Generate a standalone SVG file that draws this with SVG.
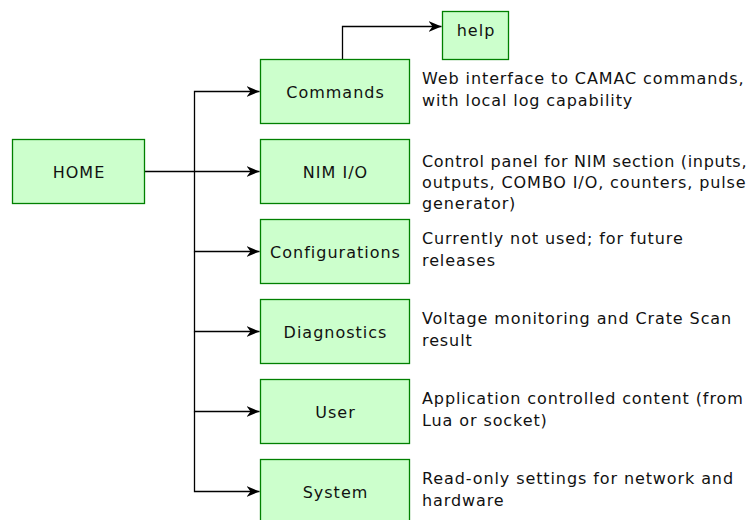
<svg xmlns="http://www.w3.org/2000/svg" width="756" height="520" viewBox="0 0 756 520">
<style>
.box{fill:#ccffcc;stroke:#008000;stroke-width:1.3}
.lbl{font-family:"DejaVu Sans",Verdana,sans-serif;font-size:16px;letter-spacing:1px;fill:#111;text-anchor:middle;dominant-baseline:central}
.desc{font-family:"DejaVu Sans",Verdana,sans-serif;font-size:16px;letter-spacing:0.9px;fill:#111}
.tight{letter-spacing:0.7px}
.edge{fill:none;stroke:#000;stroke-width:1.3}
</style>
<defs>
<marker id="arr" viewBox="0 0 13 12" refX="13" refY="6" markerWidth="13" markerHeight="12" markerUnits="userSpaceOnUse" orient="auto">
<path d="M0,0.5 L13,6 L0,11.5 L4,6 Z" fill="#000"/>
</marker>
</defs>
<rect width="756" height="520" fill="#fff"/>
<g id="connectors">
<path class="edge" d="M144.5,171.5 H194.5 V91.5 H259.5" marker-end="url(#arr)"/>
<path class="edge" d="M194.5,171.5 H259.5" marker-end="url(#arr)"/>
<path class="edge" d="M194.5,171.5 V251.5 H259.5" marker-end="url(#arr)"/>
<path class="edge" d="M194.5,251.5 V331.5 H259.5" marker-end="url(#arr)"/>
<path class="edge" d="M194.5,331.5 V411.5 H259.5" marker-end="url(#arr)"/>
<path class="edge" d="M194.5,411.5 V491.5 H259.5" marker-end="url(#arr)"/>
<path class="edge" d="M342.5,59.5 V26.5 H441.5" marker-end="url(#arr)"/>
</g>
<g id="home"><rect class="box" x="12.5" y="139.5" width="132" height="64"/><text class="lbl" x="79" y="172">HOME</text></g>
<g id="help"><rect class="box" x="442.5" y="11.5" width="66" height="48"/><text class="lbl" x="476" y="30">help</text></g>
<g id="commands"><rect class="box" x="260.5" y="59.5" width="149" height="64"/><text class="lbl" x="335.5" y="92">Commands</text>
<text class="desc" x="422" y="84">Web interface to CAMAC commands,</text><text class="desc" x="422" y="106">with local log capability</text></g>
<g id="nimio"><rect class="box" x="260.5" y="139.5" width="149" height="64"/><text class="lbl" x="335.5" y="172">NIM I/O</text>
<text class="desc tight" x="422" y="167">Control panel for NIM section (inputs,</text><text class="desc" x="422" y="188">outputs, COMBO I/O, counters, pulse</text><text class="desc" x="422" y="209">generator)</text></g>
<g id="configurations"><rect class="box" x="260.5" y="219.5" width="149" height="64"/><text class="lbl" x="335.5" y="252">Configurations</text>
<text class="desc" x="422" y="244">Currently not used; for future</text><text class="desc" x="422" y="266">releases</text></g>
<g id="diagnostics"><rect class="box" x="260.5" y="299.5" width="149" height="64"/><text class="lbl" x="335.5" y="332">Diagnostics</text>
<text class="desc" x="422" y="324">Voltage monitoring and Crate Scan</text><text class="desc" x="422" y="346">result</text></g>
<g id="user"><rect class="box" x="260.5" y="379.5" width="149" height="64"/><text class="lbl" x="335.5" y="412">User</text>
<text class="desc" x="422" y="404">Application controlled content (from</text><text class="desc" x="422" y="426">Lua or socket)</text></g>
<g id="system"><rect class="box" x="260.5" y="459.5" width="149" height="64"/><text class="lbl" x="335.5" y="492">System</text>
<text class="desc" x="422" y="484">Read-only settings for network and</text><text class="desc" x="422" y="506">hardware</text></g>
</svg>
